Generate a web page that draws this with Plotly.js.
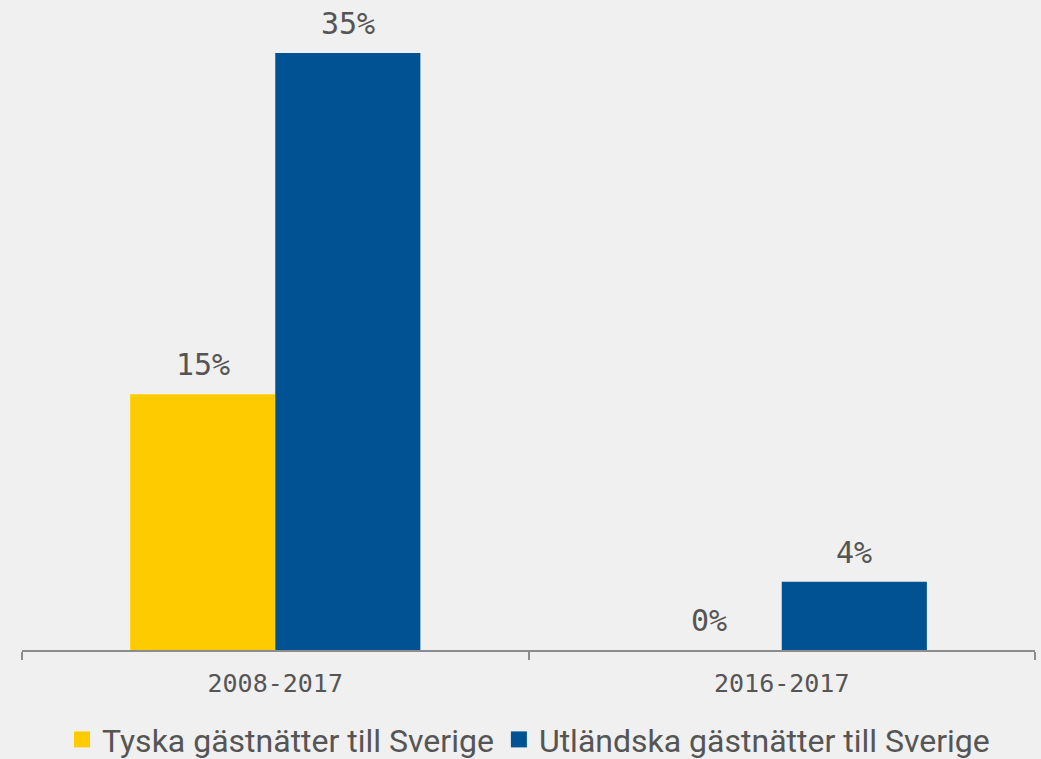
<!DOCTYPE html>
<html>
<head>
<meta charset="utf-8">
<script src="https://cdn.plot.ly/plotly-3.0.1.min.js"></script>
<style>html,body{margin:0;padding:0;background:#f0f0f0;}#chart{width:1041px;height:759px;}</style>
</head>
<body>
<div id="chart"></div>
<script>
var categories = ["2008-2017", "2016-2017"];
var seriesNames = ["Tyska gästnätter till Sverige", "Utländska gästnätter till Sverige"];
var tyskaValues = [15, 0];
var utlandskaValues = [35, 4];
var seriesColors = ["#FECB00", "#005293"];

var allValues = [tyskaValues, utlandskaValues];
var traces = [];
allValues.forEach(function (vals, i) {
  traces.push({
    type: "bar",
    x: categories,
    y: vals,
    name: seriesNames[i],
    marker: {color: seriesColors[i]},
    showlegend: false,
    hoverinfo: "skip"
  });
});
// legend-only entries with larger square symbols
allValues.forEach(function (vals, i) {
  traces.push({
    type: "scatter",
    mode: "markers",
    x: [null],
    y: [null],
    name: seriesNames[i],
    marker: {color: seriesColors[i], symbol: "square", size: 18},
    showlegend: true
  });
});

var annotations = [];
allValues.forEach(function (vals, i) {
  vals.forEach(function (v, j) {
    annotations.push({
      x: categories[j],
      y: v,
      xref: "x",
      yref: "y",
      text: v + "%",
      showarrow: false,
      yanchor: "bottom",
      yshift: 10,
      xshift: (i === 0 ? -72.5 : 72.5),
      font: {family: "DejaVu Sans Mono", size: 30, color: "#555555"}
    });
  });
});

var layout = {
  width: 1041,
  height: 759,
  paper_bgcolor: "#f0f0f0",
  plot_bgcolor: "#f0f0f0",
  margin: {l: 22, r: 6, t: 10, b: 109, autoexpand: false},
  barmode: "group",
  bargap: 0.427,
  bargroupgap: 0,
  xaxis: {
    type: "category",
    showline: true,
    linecolor: "#8c8c8c",
    linewidth: 2,
    ticks: "outside",
    tickson: "boundaries",
    ticklen: 8,
    tickcolor: "#8c8c8c",
    tickwidth: 2,
    ticklabelstandoff: 10,
    showgrid: false,
    tickfont: {family: "DejaVu Sans Mono", size: 25, color: "#555555"}
  },
  yaxis: {
    range: [0, 37.52],
    visible: false,
    showgrid: false,
    zeroline: false
  },
  legend: {
    orientation: "h",
    x: 0.5,
    xanchor: "center",
    y: -0.14,
    yanchor: "middle",
    font: {family: "Roboto", size: 32, color: "#555555"},
    bgcolor: "rgba(0,0,0,0)"
  },
  annotations: annotations,
  showlegend: true
};

Plotly.newPlot("chart", traces, layout, {displayModeBar: false, staticPlot: true});
</script>
</body>
</html>
